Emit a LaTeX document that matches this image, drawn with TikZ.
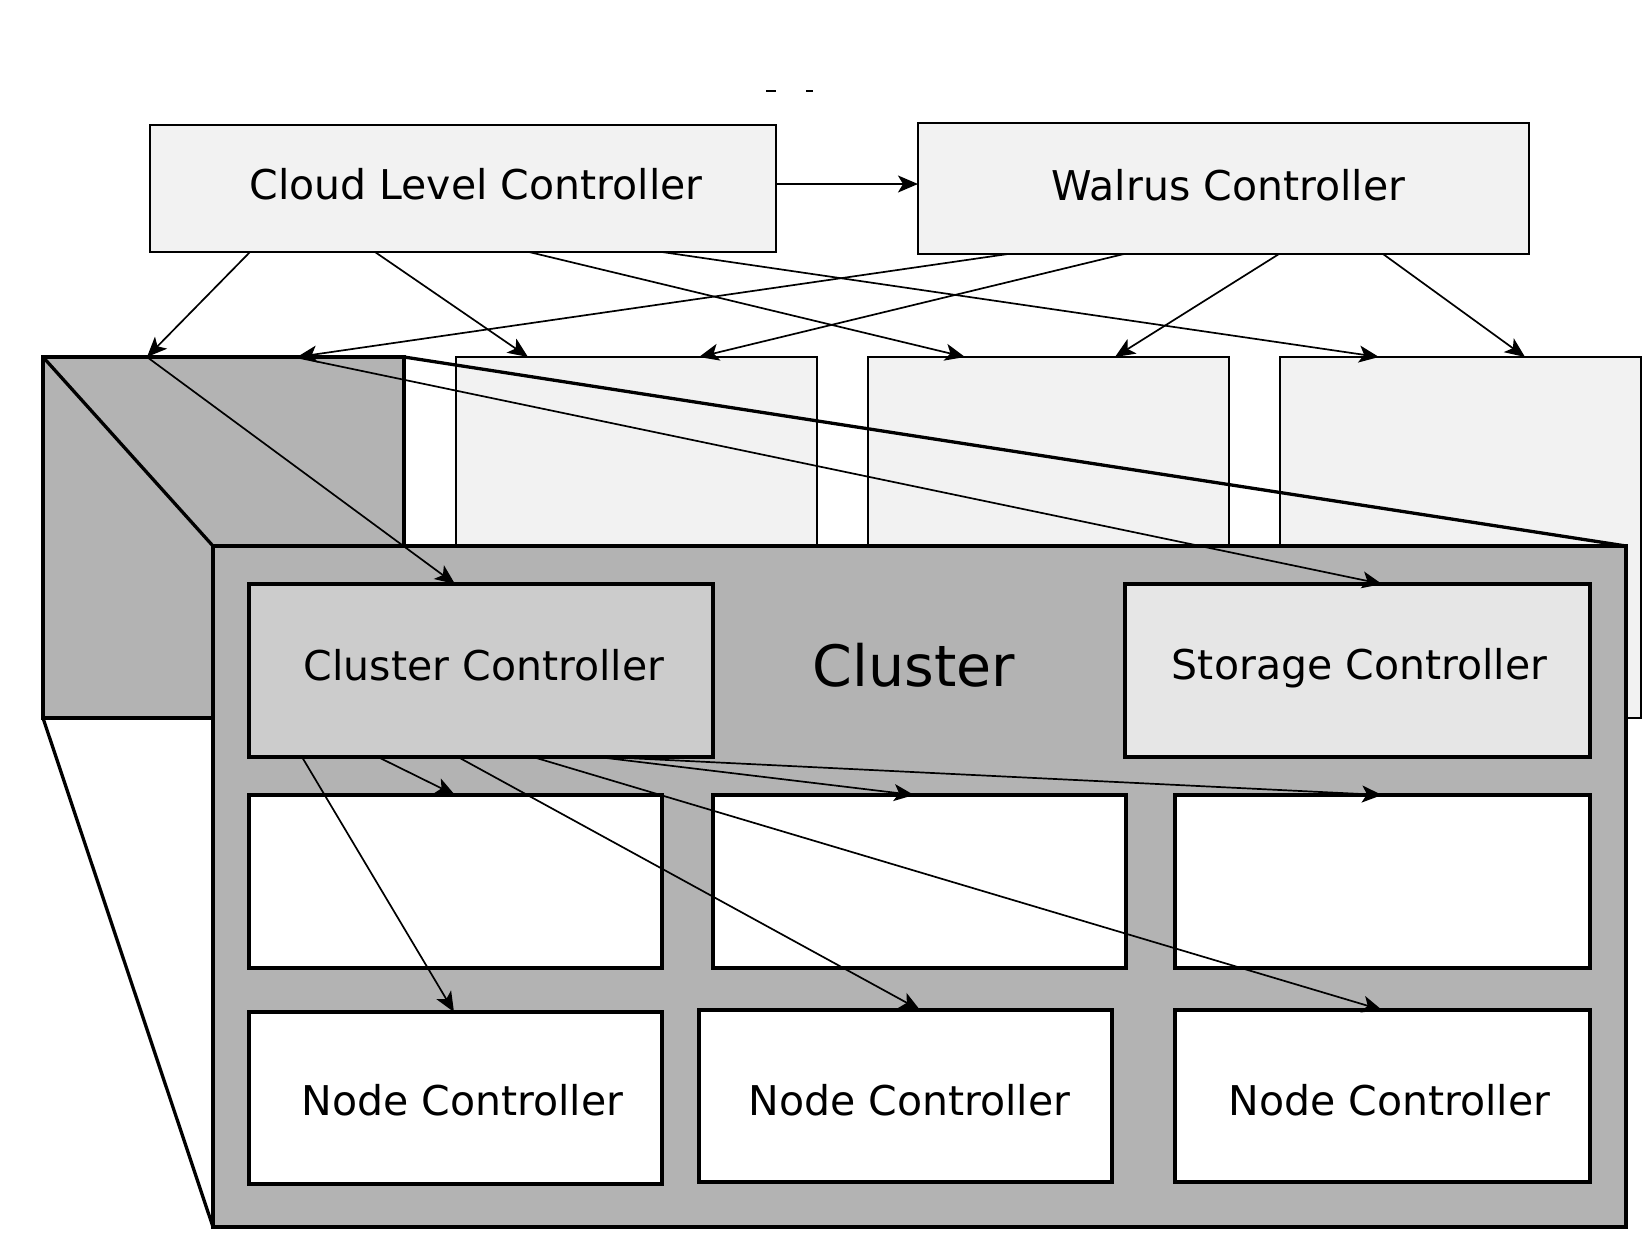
\documentclass[tikz,border=0pt]{standalone}
\usepackage{fontspec}
\setmainfont{DejaVu Sans}
\usetikzlibrary{arrows.meta,calc}
\definecolor{boxlight}{HTML}{F2F2F2}
\definecolor{greyfill}{HTML}{B3B3B3}
\definecolor{ccfill}{HTML}{CCCCCC}
\definecolor{scfill}{HTML}{E6E6E6}
\tikzset{
  base/.style={rectangle, inner sep=0pt, outer sep=0pt, anchor=north west,
    font=\fontsize{41pt}{49pt}\selectfont},
  topbox/.style={base, draw, line width=1.7pt, fill=boxlight},
  thickbox/.style={base, draw, line width=3.3pt},
  txt/.style={inner sep=0pt, font=\fontsize{41pt}{49pt}\selectfont},
  conn/.style={line width=1.7pt, -{Stealth[length=20pt,width=17pt,inset=5pt]}},
  persp/.style={line width=3.3pt},
}
\begin{document}
\begin{tikzpicture}[x=1pt,y=-1pt]
\useasboundingbox (0,0) rectangle (1648,1236);
\fill[white] (0,0) rectangle (1648,1236);

% small marks at top
\draw[line width=2pt] (766,91) -- (776,91);
\draw[line width=2pt] (806,91) -- (813,91);

% top controllers
\node[topbox, minimum width=626pt, minimum height=127pt,
  label={[txt, name=clct, xshift=13pt, yshift=4pt]center:Cloud Level Controller}] (clc) at (150,125) {};
\node[topbox, minimum width=611pt, minimum height=131pt,
  label={[txt, name=wct, xshift=5pt, yshift=3pt]center:Walrus Controller}] (wc) at (918,123) {};

% back cluster boxes
\node[topbox, minimum width=361pt, minimum height=361pt] (b2) at (456,357) {};
\node[topbox, minimum width=361pt, minimum height=361pt] (b3) at (868,357) {};
\node[topbox, minimum width=361pt, minimum height=361pt] (b4) at (1280,357) {};
\node[thickbox, fill=greyfill, minimum width=361pt, minimum height=361pt] (b1) at (43,357) {};

% perspective lines
\draw[persp] (b1.north west) -- (213,546);
\draw[persp] (b1.south west) -- (213,1227);
\draw[persp] (b1.north east) -- (1626,546);

% enlarged cluster
\node[thickbox, fill=greyfill, minimum width=1413pt, minimum height=681pt] (cl) at (213,546) {};
\node[font=\fontsize{57pt}{68pt}\selectfont] (cltext) at (914,665) {Cluster};

\node[thickbox, fill=ccfill, minimum width=464pt, minimum height=173pt,
  label={[txt, name=cct, xshift=3pt, yshift=5pt]center:Cluster Controller}] (cc) at (249,584) {};
\node[thickbox, fill=scfill, minimum width=465pt, minimum height=173pt,
  label={[txt, name=sct, xshift=2pt, yshift=2pt]center:Storage Controller}] (sc) at (1125,584) {};

\node[thickbox, fill=white, minimum width=413pt, minimum height=173pt] (r1) at (249,795) {};
\node[thickbox, fill=white, minimum width=413pt, minimum height=173pt] (r2) at (713,795) {};
\node[thickbox, fill=white, minimum width=415pt, minimum height=173pt] (r3) at (1175,795) {};

\node[thickbox, fill=white, minimum width=413pt, minimum height=172pt,
  label={[txt, name=n1t, xshift=7pt, yshift=-2pt]center:Node Controller}] (n1) at (249,1012) {};
\node[thickbox, fill=white, minimum width=413pt, minimum height=172pt,
  label={[txt, name=n2t, xshift=4pt, yshift=-4pt]center:Node Controller}] (n2) at (699,1010) {};
\node[thickbox, fill=white, minimum width=415pt, minimum height=172pt,
  label={[txt, name=n3t, xshift=7pt, yshift=-4pt]center:Node Controller}] (n3) at (1175,1010) {};

% connectors
\draw[conn] ($(clc.north east)+(0,59)$) -- ($(wc.north west)+(0,61)$);

\draw[conn] ($(clc.south west)+(100,0)$) -- ($(b1.north west)+(104,0)$);
\draw[conn] ($(clc.south west)+(225,0)$) -- ($(b2.north west)+(72,0)$);
\draw[conn] ($(clc.south west)+(379,0)$) -- ($(b3.north west)+(97,0)$);
\draw[conn] ($(clc.south west)+(512,0)$) -- ($(b4.north west)+(99,0)$);

\draw[conn] ($(wc.south west)+(90,0)$) -- ($(b1.north west)+(254,0)$);
\draw[conn] ($(wc.south west)+(206,0)$) -- ($(b2.north west)+(243,0)$);
\draw[conn] ($(wc.south west)+(361,0)$) -- ($(b3.north west)+(247,0)$);
\draw[conn] ($(wc.south west)+(465,0)$) -- ($(b4.north west)+(245,0)$);

\draw[conn] ($(b1.north west)+(104,0)$) -- ($(cc.north west)+(206,0)$);
\draw[conn] ($(b1.north west)+(252,0)$) -- ($(sc.north west)+(257,0)$);

\draw[conn] ($(cc.south west)+(53,0)$) -- ($(n1.north west)+(205,0)$);
\draw[conn] ($(cc.south west)+(129,0)$) -- ($(r1.north west)+(206,0)$);
\draw[conn] ($(cc.south west)+(209,0)$) -- ($(n2.north west)+(221,0)$);
\draw[conn] ($(cc.south west)+(284,0)$) -- ($(n3.north west)+(207,0)$);
\draw[conn] ($(cc.south west)+(349,0)$) -- ($(r2.north west)+(201,0)$);
\draw[conn] ($(cc.south west)+(357,0)$) -- ($(r3.north west)+(207,0)$);
\end{tikzpicture}
\end{document}
